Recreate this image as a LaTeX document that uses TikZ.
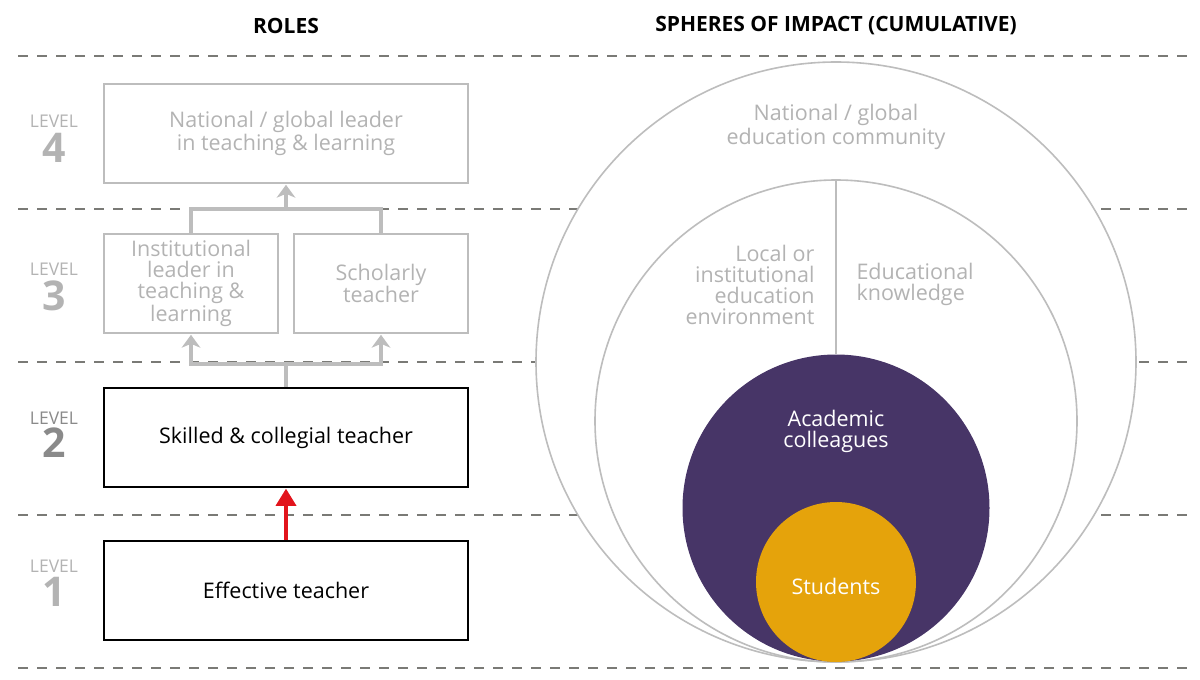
\documentclass[tikz,border=0pt]{standalone}
\usepackage{fontspec}
\setmainfont{Open Sans}
\usepackage{tikz}
\usetikzlibrary{arrows.meta}
\usepackage{xcolor}
\definecolor{lightgrey}{HTML}{BDBDBD}
\definecolor{textgrey}{HTML}{B3B3B3}
\definecolor{dashgrey}{HTML}{7A7A76}
\definecolor{levelgrey}{HTML}{8A8A8A}
\definecolor{arrowred}{HTML}{E2141C}
\definecolor{impactpurple}{HTML}{473567}
\definecolor{impactgold}{HTML}{E5A30B}
\tikzset{
  levelline/.style={dashgrey, line width=1.3pt, dash pattern=on 10pt off 9pt},
  rolebox/.style={draw, line width=1.6pt, inner sep=2pt, align=center,
    font=\fontsize{21.5}{21}\selectfont},
  fadedbox/.style={rolebox, draw=lightgrey, text=textgrey},
  graylink/.style={lightgrey, line width=4pt},
  linktip/.style={-{Stealth[length=13pt,width=19pt,inset=4pt,line width=0pt]}, shorten >=1pt},
  levelword/.style={font=\fontsize{17.5}{17.5}\selectfont},
  levelnum/.style={font=\fontsize{41}{41}\selectfont\bfseries},
  sphere/.style={circle, draw=lightgrey, line width=1.6pt, fill=white, inner sep=0pt},
  spheretext/.style={font=\fontsize{21.5}{21}\selectfont}
}
\begin{document}
\begin{tikzpicture}[x=1pt,y=-1pt]
  \useasboundingbox (0,0) rectangle (1200,680);
  % headings
  \node[font=\fontsize{21}{21}\selectfont\bfseries] (roles) at (286,26) {ROLES};
  \node[font=\fontsize{21}{21}\selectfont\bfseries] (spheres) at (836,26) {SPHERES OF IMPACT (CUMULATIVE)};
  % level separators
  \foreach \y/\n in {56/a,209/b,362/c,515/d,668/e}{
    \coordinate (sepL\n) at (18,\y);
    \coordinate (sepR\n) at (1192,\y);
    \draw[levelline] (sepL\n) -- (sepR\n);
  }
  % level labels
  \node[levelword, textgrey] (lw4) at (54,121) {LEVEL};
  \node[levelnum, textgrey] (ln4) at (54,148) {4};
  \node[levelword, textgrey] (lw3) at (54,269) {LEVEL};
  \node[levelnum, textgrey] (ln3) at (54,296) {3};
  \node[levelword, levelgrey] (lw2) at (54,418) {LEVEL};
  \node[levelnum, levelgrey] (ln2) at (54,443) {2};
  \node[levelword, textgrey] (lw1) at (54,566) {LEVEL};
  \node[levelnum, textgrey] (ln1) at (54,592) {1};
  % roles
  \node[fadedbox, minimum width=364pt, minimum height=99pt] (lead4) at (286,133.5)
    {National / global leader\\in teaching \& learning};
  \node[fadedbox, minimum width=174pt, minimum height=99pt] (inst3) at (191,283.5)
    {Institutional\\leader in\\teaching \&\\learning};
  \node[fadedbox, minimum width=174pt, minimum height=99pt] (schol3) at (381,283.5)
    {Scholarly\\teacher};
  \node[rolebox, minimum width=364pt, minimum height=99pt] (skill2) at (286,437.5)
    {Skilled \& collegial teacher};
  \node[rolebox, minimum width=364pt, minimum height=99pt] (eff1) at (286,590.5)
    {Effective teacher};
  % progression
  \coordinate (join3) at (286,209);
  \coordinate (join2) at (286,364);
  \draw[graylink] (inst3.north) |- (join3) -| (schol3.north);
  \draw[graylink, linktip] (join3) -- (lead4.south);
  \draw[graylink] (skill2.north) -- (join2);
  \draw[graylink, linktip] (join2) -| (inst3.south);
  \draw[graylink, linktip] (join2) -| (schol3.south);
  \draw[arrowred, line width=4.5pt, -{Triangle[length=17pt,width=21pt,line width=0pt]}, shorten >=1pt]
    (eff1.north) -- (skill2.south);
  % spheres of impact
  \node[sphere, minimum size=600pt] (global) at (836,362) {};
  \node[sphere, minimum size=482pt] (local) at (836,421) {};
  \coordinate (splitTop) at (836,180);
  \node[circle, fill=impactpurple, inner sep=0pt, minimum size=307pt] (colleagues) at (836,508) {};
  \draw[lightgrey, line width=1.6pt] (splitTop) -- (colleagues.north);
  \node[circle, fill=impactgold, inner sep=0pt, minimum size=160pt] (studs) at (836,582) {};
  \node[spheretext, textgrey, align=center, font=\fontsize{21.5}{24.5}\selectfont] (globaltxt) at (836,127)
    {National / global\\education community};
  \node[spheretext, textgrey, align=right, anchor=east] (localtxt) at (818,285)
    {Local or\\institutional\\education\\environment};
  \node[spheretext, textgrey, align=left, anchor=west] (knowtxt) at (853,284)
    {Educational\\knowledge};
  \node[spheretext, white, align=center] (colltxt) at (836,431)
    {Academic\\colleagues};
  \node[spheretext, white] (studtxt) at (836,586) {Students};
\end{tikzpicture}
\end{document}
